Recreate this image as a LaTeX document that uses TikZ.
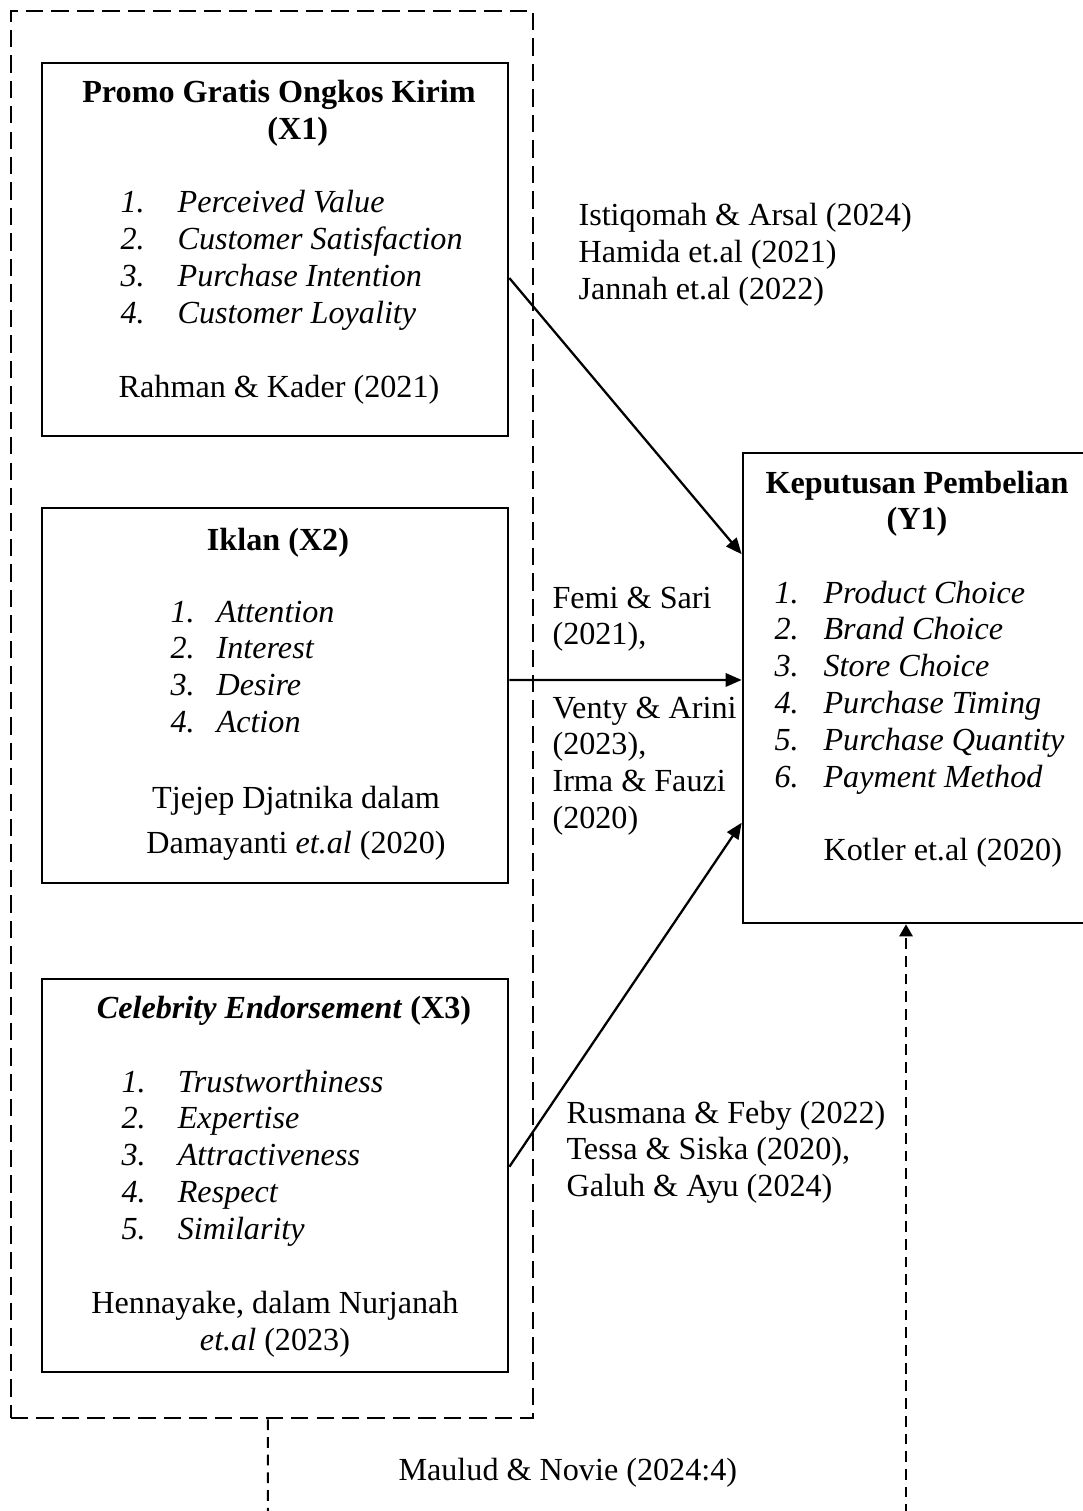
\documentclass[tikz,border=0pt]{standalone}
\usepackage{fontspec}
\setmainfont{Liberation Serif}
\usetikzlibrary{arrows.meta, calc, fit}

\newcommand{\stack}[2][l]{\begin{tabular}[t]{@{}#1@{}}#2\end{tabular}}
\newcommand{\nr}[2]{\makebox[#1][l]{#2}}

\begin{document}
\begin{tikzpicture}[x=0.37313pt, y=-0.37313pt,
            every node/.style={inner sep=0pt, font=\fontsize{12pt}{13.8pt}\selectfont},
            box/.style={draw, line width=1pt, inner sep=0pt},
            grpbox/.style={draw, line width=1pt, inner sep=0pt, dash pattern=on 6.5pt off 3pt},
            txt/.style={anchor=base west},
            ttl/.style={anchor=base, font=\fontsize{12pt}{13.8pt}\selectfont\bfseries},
            lst/.style={anchor=base west, font=\fontsize{12pt}{13.8pt}\selectfont\itshape},
            arr/.style={line width=0.85pt, -{Triangle[length=6pt, width=5pt]}},
            link/.style={line width=0.75pt, dash pattern=on 4pt off 2.6pt}]
            \useasboundingbox (0,0) rectangle (1083,1511);
            \clip (0,0) rectangle (1083,1511);

            % Boxes
            \node[grpbox, fit={(11,11) (533,1418)}] (grp) {};
            \node[box, fit={(42,63) (508,436)}] (X1) {};
            \node[box, fit={(42,508) (508,883)}] (X2) {};
            \node[box, fit={(42,979) (508,1372)}] (X3) {};
            \node[box, fit={(743,453) (1091,923)}] (Y1) {};

            % Texts in X1
            \node[ttl] (x1t) at (279,103) {\stack[c]{Promo Gratis Ongkos Kirim\\\hspace*{14pt}(X1)}};
            \node[lst] (x1l) at (120,213) {\stack{\nr{21.3pt}{1.}Perceived Value\\
                \nr{21.3pt}{2.}Customer Satisfaction\\
                \nr{21.3pt}{3.}Purchase Intention\\
                \nr{21.3pt}{4.}Customer Loyality}};
            \node[anchor=base] (x1c) at (279,398) {Rahman \& Kader (2021)};

            % Texts in X2
            \node[ttl] (x2t) at (278,550) {Iklan (X2)};
            \node[lst] (x2l) at (170,622) {\stack{\nr{17.2pt}{1.}Attention\\
                \nr{17.2pt}{2.}Interest\\
                \nr{17.2pt}{3.}Desire\\
                \nr{17.2pt}{4.}Action}};
            \node[anchor=base] (x2c) at (296,808) {\stack[c]{Tjejep Djatnika dalam\\[3pt]Damayanti \textit{et.al} (2020)}};

            % Texts in X3
            \node[anchor=base] (x3t) at (284,1018) {\textbf{\textit{Celebrity Endorsement} (X3)}};
            \node[lst] (x3l) at (121,1092) {\stack{\nr{21pt}{1.}Trustworthiness\\
                \nr{21pt}{2.}Expertise\\
                \nr{21pt}{3.}Attractiveness\\
                \nr{21pt}{4.}Respect\\
                \nr{21pt}{5.}Similarity}};
            \node[anchor=base] (x3c) at (275,1313) {\stack[c]{Hennayake, dalam Nurjanah\\\textit{et.al} (2023)}};

            % Texts in Y1
            \node[ttl] (y1t) at (917,493) {\stack[c]{Keputusan Pembelian\\(Y1)}};
            \node[lst] (y1l) at (774,603) {\stack{\nr{18.3pt}{1.}Product Choice\\
                \nr{18.3pt}{2.}Brand Choice\\
                \nr{18.3pt}{3.}Store Choice\\
                \nr{18.3pt}{4.}Purchase Timing\\
                \nr{18.3pt}{5.}Purchase Quantity\\
                \nr{18.3pt}{6.}Payment Method}};
            \node[txt] (y1c) at (823,860) {Kotler et.al (2020)};

            % Labels
            \node[txt] (l1) at (578,226) {\stack{Istiqomah \& Arsal (2024)\\Hamida et.al (2021)\\Jannah et.al (2022)}};
            \node[txt] (l2a) at (552,608) {\stack{Femi \& Sari\\(2021),}};
            \node[txt] (l2b) at (552,718) {\stack{Venty \& Arini\\(2023),\\Irma \& Fauzi\\(2020)}};
            \node[txt] (l3) at (566,1123) {\stack{Rusmana \& Feby (2022)\\Tessa \& Siska (2020),\\Galuh \& Ayu (2024)}};
            \node[txt] (l4) at (398,1480) {Maulud \& Novie (2024:4)};

            % Lines
            \draw[arr] ($(X1.north east)!0.576!(X1.south east)$) -- ($(Y1.north west)!0.217!(Y1.south west)$);
            \draw[arr] ($(X2.north east)!0.459!(X2.south east)$) -- ($(Y1.north west)!0.483!(Y1.south west)$);
            \draw[arr] ($(X3.north east)!0.478!(X3.south east)$) -- ($(Y1.north west)!0.785!(Y1.south west)$);
            \coordinate (gfoot) at (268,1515);
            \coordinate (yfoot) at (906,1515);
            \draw[link] ($(grp.south west)!0.492!(grp.south east)$) -- (gfoot);
            \draw[link, -{Triangle[length=4.5pt, width=5pt]}] (yfoot) -- (yfoot |- Y1.south);
        \end{tikzpicture}
\end{document}
